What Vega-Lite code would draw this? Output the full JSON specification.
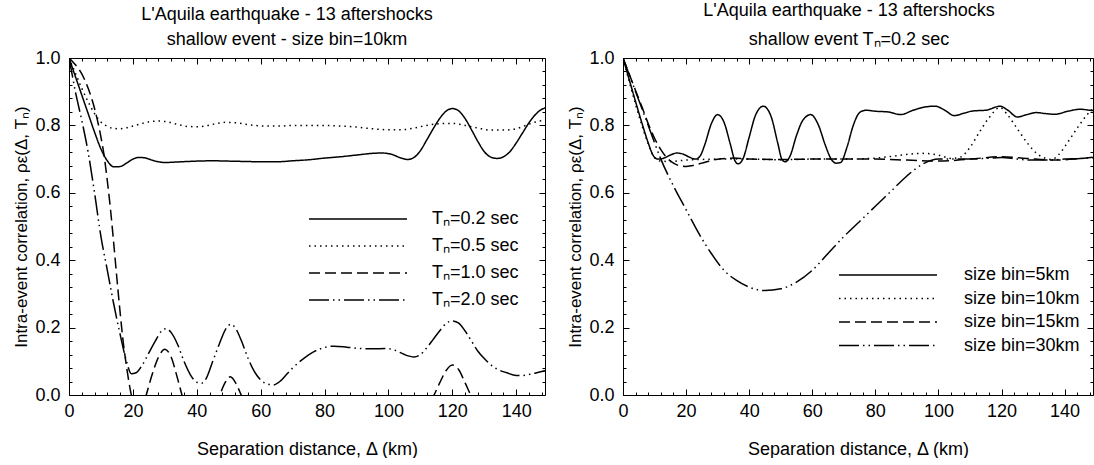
{
  "$schema": "https://vega.github.io/schema/vega-lite/v6.json",
  "padding": {"left": 12, "top": 2, "right": 0, "bottom": 0},
  "spacing": 20,
  "config": {
    "font": "Liberation Sans",
    "view": {"stroke": null},
    "axis": {
      "grid": false,
      "domainColor": "#000",
      "domainWidth": 1,
      "tickColor": "#000",
      "tickWidth": 1,
      "labelColor": "#000",
      "titleColor": "#000",
      "labelFont": "Liberation Sans",
      "titleFont": "Liberation Sans",
      "labelFontSize": 18,
      "titleFontSize": 18,
      "titleFontWeight": "normal",
      "labelOverlap": false,
      "labelFlush": false
    },
    "legend": {
      "labelFont": "Liberation Sans",
      "labelFontSize": 18,
      "labelColor": "#000",
      "symbolType": "stroke",
      "symbolSize": 9604,
      "symbolStrokeWidth": 1.5,
      "symbolStrokeColor": "#000",
      "clipHeight": 18,
      "padding": 0
    },
    "title": {"font": "Liberation Sans", "fontSize": 18, "fontWeight": "normal", "color": "#000"}
  },
  "datasets": {
    "byPeriod": [
      {"period": "Tₙ=0.2 sec", "distance": 0, "rho": 1.0},
      {"period": "Tₙ=0.2 sec", "distance": 2, "rho": 0.945},
      {"period": "Tₙ=0.2 sec", "distance": 4, "rho": 0.89},
      {"period": "Tₙ=0.2 sec", "distance": 6, "rho": 0.835},
      {"period": "Tₙ=0.2 sec", "distance": 8, "rho": 0.78},
      {"period": "Tₙ=0.2 sec", "distance": 10, "rho": 0.73},
      {"period": "Tₙ=0.2 sec", "distance": 12, "rho": 0.695},
      {"period": "Tₙ=0.2 sec", "distance": 14, "rho": 0.677},
      {"period": "Tₙ=0.2 sec", "distance": 16, "rho": 0.678},
      {"period": "Tₙ=0.2 sec", "distance": 18, "rho": 0.688},
      {"period": "Tₙ=0.2 sec", "distance": 20, "rho": 0.7},
      {"period": "Tₙ=0.2 sec", "distance": 22, "rho": 0.705},
      {"period": "Tₙ=0.2 sec", "distance": 24, "rho": 0.703},
      {"period": "Tₙ=0.2 sec", "distance": 26, "rho": 0.697},
      {"period": "Tₙ=0.2 sec", "distance": 28, "rho": 0.692},
      {"period": "Tₙ=0.2 sec", "distance": 30, "rho": 0.69},
      {"period": "Tₙ=0.2 sec", "distance": 35, "rho": 0.692},
      {"period": "Tₙ=0.2 sec", "distance": 40, "rho": 0.694},
      {"period": "Tₙ=0.2 sec", "distance": 45, "rho": 0.695},
      {"period": "Tₙ=0.2 sec", "distance": 50, "rho": 0.694},
      {"period": "Tₙ=0.2 sec", "distance": 55, "rho": 0.693},
      {"period": "Tₙ=0.2 sec", "distance": 60, "rho": 0.692},
      {"period": "Tₙ=0.2 sec", "distance": 65, "rho": 0.692},
      {"period": "Tₙ=0.2 sec", "distance": 70, "rho": 0.695},
      {"period": "Tₙ=0.2 sec", "distance": 75, "rho": 0.698},
      {"period": "Tₙ=0.2 sec", "distance": 80, "rho": 0.703},
      {"period": "Tₙ=0.2 sec", "distance": 85, "rho": 0.707},
      {"period": "Tₙ=0.2 sec", "distance": 90, "rho": 0.712},
      {"period": "Tₙ=0.2 sec", "distance": 95, "rho": 0.717},
      {"period": "Tₙ=0.2 sec", "distance": 98, "rho": 0.718},
      {"period": "Tₙ=0.2 sec", "distance": 101, "rho": 0.714},
      {"period": "Tₙ=0.2 sec", "distance": 104, "rho": 0.703},
      {"period": "Tₙ=0.2 sec", "distance": 106, "rho": 0.699},
      {"period": "Tₙ=0.2 sec", "distance": 108, "rho": 0.705},
      {"period": "Tₙ=0.2 sec", "distance": 110, "rho": 0.725},
      {"period": "Tₙ=0.2 sec", "distance": 112, "rho": 0.757},
      {"period": "Tₙ=0.2 sec", "distance": 114, "rho": 0.79},
      {"period": "Tₙ=0.2 sec", "distance": 116, "rho": 0.82},
      {"period": "Tₙ=0.2 sec", "distance": 118, "rho": 0.842},
      {"period": "Tₙ=0.2 sec", "distance": 120, "rho": 0.85},
      {"period": "Tₙ=0.2 sec", "distance": 122, "rho": 0.843},
      {"period": "Tₙ=0.2 sec", "distance": 124, "rho": 0.82},
      {"period": "Tₙ=0.2 sec", "distance": 126, "rho": 0.787},
      {"period": "Tₙ=0.2 sec", "distance": 128, "rho": 0.752},
      {"period": "Tₙ=0.2 sec", "distance": 130, "rho": 0.722},
      {"period": "Tₙ=0.2 sec", "distance": 132, "rho": 0.706},
      {"period": "Tₙ=0.2 sec", "distance": 134, "rho": 0.702},
      {"period": "Tₙ=0.2 sec", "distance": 136, "rho": 0.707},
      {"period": "Tₙ=0.2 sec", "distance": 138, "rho": 0.722},
      {"period": "Tₙ=0.2 sec", "distance": 140, "rho": 0.748},
      {"period": "Tₙ=0.2 sec", "distance": 142, "rho": 0.778},
      {"period": "Tₙ=0.2 sec", "distance": 144, "rho": 0.808},
      {"period": "Tₙ=0.2 sec", "distance": 146, "rho": 0.832},
      {"period": "Tₙ=0.2 sec", "distance": 148, "rho": 0.848},
      {"period": "Tₙ=0.2 sec", "distance": 150, "rho": 0.853},

      {"period": "Tₙ=0.5 sec", "distance": 0, "rho": 1.0},
      {"period": "Tₙ=0.5 sec", "distance": 2, "rho": 0.955},
      {"period": "Tₙ=0.5 sec", "distance": 4, "rho": 0.91},
      {"period": "Tₙ=0.5 sec", "distance": 6, "rho": 0.87},
      {"period": "Tₙ=0.5 sec", "distance": 8, "rho": 0.835},
      {"period": "Tₙ=0.5 sec", "distance": 10, "rho": 0.81},
      {"period": "Tₙ=0.5 sec", "distance": 12, "rho": 0.797},
      {"period": "Tₙ=0.5 sec", "distance": 14, "rho": 0.791},
      {"period": "Tₙ=0.5 sec", "distance": 16, "rho": 0.79},
      {"period": "Tₙ=0.5 sec", "distance": 18, "rho": 0.793},
      {"period": "Tₙ=0.5 sec", "distance": 20, "rho": 0.798},
      {"period": "Tₙ=0.5 sec", "distance": 23, "rho": 0.806},
      {"period": "Tₙ=0.5 sec", "distance": 26, "rho": 0.812},
      {"period": "Tₙ=0.5 sec", "distance": 28, "rho": 0.813},
      {"period": "Tₙ=0.5 sec", "distance": 31, "rho": 0.81},
      {"period": "Tₙ=0.5 sec", "distance": 34, "rho": 0.803},
      {"period": "Tₙ=0.5 sec", "distance": 37, "rho": 0.797},
      {"period": "Tₙ=0.5 sec", "distance": 40, "rho": 0.796},
      {"period": "Tₙ=0.5 sec", "distance": 43, "rho": 0.799},
      {"period": "Tₙ=0.5 sec", "distance": 46, "rho": 0.805},
      {"period": "Tₙ=0.5 sec", "distance": 49, "rho": 0.809},
      {"period": "Tₙ=0.5 sec", "distance": 52, "rho": 0.808},
      {"period": "Tₙ=0.5 sec", "distance": 55, "rho": 0.804},
      {"period": "Tₙ=0.5 sec", "distance": 58, "rho": 0.8},
      {"period": "Tₙ=0.5 sec", "distance": 62, "rho": 0.798},
      {"period": "Tₙ=0.5 sec", "distance": 66, "rho": 0.798},
      {"period": "Tₙ=0.5 sec", "distance": 70, "rho": 0.8},
      {"period": "Tₙ=0.5 sec", "distance": 75, "rho": 0.8},
      {"period": "Tₙ=0.5 sec", "distance": 80, "rho": 0.8},
      {"period": "Tₙ=0.5 sec", "distance": 85, "rho": 0.798},
      {"period": "Tₙ=0.5 sec", "distance": 90, "rho": 0.795},
      {"period": "Tₙ=0.5 sec", "distance": 95, "rho": 0.79},
      {"period": "Tₙ=0.5 sec", "distance": 100, "rho": 0.787},
      {"period": "Tₙ=0.5 sec", "distance": 104, "rho": 0.787},
      {"period": "Tₙ=0.5 sec", "distance": 108, "rho": 0.792},
      {"period": "Tₙ=0.5 sec", "distance": 112, "rho": 0.8},
      {"period": "Tₙ=0.5 sec", "distance": 116, "rho": 0.805},
      {"period": "Tₙ=0.5 sec", "distance": 120, "rho": 0.806},
      {"period": "Tₙ=0.5 sec", "distance": 124, "rho": 0.8},
      {"period": "Tₙ=0.5 sec", "distance": 128, "rho": 0.792},
      {"period": "Tₙ=0.5 sec", "distance": 132, "rho": 0.786},
      {"period": "Tₙ=0.5 sec", "distance": 136, "rho": 0.786},
      {"period": "Tₙ=0.5 sec", "distance": 140, "rho": 0.79},
      {"period": "Tₙ=0.5 sec", "distance": 143, "rho": 0.8},
      {"period": "Tₙ=0.5 sec", "distance": 146, "rho": 0.81},
      {"period": "Tₙ=0.5 sec", "distance": 148, "rho": 0.814},
      {"period": "Tₙ=0.5 sec", "distance": 150, "rho": 0.81},

      {"period": "Tₙ=1.0 sec", "distance": 0, "rho": 1.0},
      {"period": "Tₙ=1.0 sec", "distance": 2, "rho": 0.98},
      {"period": "Tₙ=1.0 sec", "distance": 4, "rho": 0.953},
      {"period": "Tₙ=1.0 sec", "distance": 6, "rho": 0.91},
      {"period": "Tₙ=1.0 sec", "distance": 8, "rho": 0.85},
      {"period": "Tₙ=1.0 sec", "distance": 10, "rho": 0.765},
      {"period": "Tₙ=1.0 sec", "distance": 11, "rho": 0.71},
      {"period": "Tₙ=1.0 sec", "distance": 12, "rho": 0.635},
      {"period": "Tₙ=1.0 sec", "distance": 13, "rho": 0.55},
      {"period": "Tₙ=1.0 sec", "distance": 14, "rho": 0.45},
      {"period": "Tₙ=1.0 sec", "distance": 15, "rho": 0.345},
      {"period": "Tₙ=1.0 sec", "distance": 16, "rho": 0.245},
      {"period": "Tₙ=1.0 sec", "distance": 17, "rho": 0.155},
      {"period": "Tₙ=1.0 sec", "distance": 18, "rho": 0.085},
      {"period": "Tₙ=1.0 sec", "distance": 19, "rho": 0.025},
      {"period": "Tₙ=1.0 sec", "distance": 20, "rho": -0.02},
      {"period": "Tₙ=1.0 sec", "distance": 22, "rho": -0.055},
      {"period": "Tₙ=1.0 sec", "distance": 24, "rho": -0.005},
      {"period": "Tₙ=1.0 sec", "distance": 26, "rho": 0.06},
      {"period": "Tₙ=1.0 sec", "distance": 28, "rho": 0.112},
      {"period": "Tₙ=1.0 sec", "distance": 30, "rho": 0.136},
      {"period": "Tₙ=1.0 sec", "distance": 32, "rho": 0.112},
      {"period": "Tₙ=1.0 sec", "distance": 34, "rho": 0.048},
      {"period": "Tₙ=1.0 sec", "distance": 36, "rho": -0.02},
      {"period": "Tₙ=1.0 sec", "distance": 40, "rho": -0.08},
      {"period": "Tₙ=1.0 sec", "distance": 44, "rho": -0.05},
      {"period": "Tₙ=1.0 sec", "distance": 47, "rho": -0.005},
      {"period": "Tₙ=1.0 sec", "distance": 48.5, "rho": 0.03},
      {"period": "Tₙ=1.0 sec", "distance": 50.5, "rho": 0.054},
      {"period": "Tₙ=1.0 sec", "distance": 52.5, "rho": 0.03},
      {"period": "Tₙ=1.0 sec", "distance": 54, "rho": -0.002},
      {"period": "Tₙ=1.0 sec", "distance": 56, "rho": -0.04},
      {"period": "Tₙ=1.0 sec", "distance": 60, "rho": -0.08},
      {"period": "Tₙ=1.0 sec", "distance": 70, "rho": -0.1},
      {"period": "Tₙ=1.0 sec", "distance": 80, "rho": -0.12},
      {"period": "Tₙ=1.0 sec", "distance": 90, "rho": -0.12},
      {"period": "Tₙ=1.0 sec", "distance": 100, "rho": -0.1},
      {"period": "Tₙ=1.0 sec", "distance": 110, "rho": -0.05},
      {"period": "Tₙ=1.0 sec", "distance": 114, "rho": -0.005},
      {"period": "Tₙ=1.0 sec", "distance": 116, "rho": 0.035},
      {"period": "Tₙ=1.0 sec", "distance": 118, "rho": 0.072},
      {"period": "Tₙ=1.0 sec", "distance": 120, "rho": 0.089},
      {"period": "Tₙ=1.0 sec", "distance": 122, "rho": 0.075},
      {"period": "Tₙ=1.0 sec", "distance": 124, "rho": 0.036},
      {"period": "Tₙ=1.0 sec", "distance": 126, "rho": -0.005},
      {"period": "Tₙ=1.0 sec", "distance": 128, "rho": -0.04},
      {"period": "Tₙ=1.0 sec", "distance": 135, "rho": -0.09},
      {"period": "Tₙ=1.0 sec", "distance": 142, "rho": -0.08},
      {"period": "Tₙ=1.0 sec", "distance": 150, "rho": -0.06},

      {"period": "Tₙ=2.0 sec", "distance": 0, "rho": 1.0},
      {"period": "Tₙ=2.0 sec", "distance": 1, "rho": 0.95},
      {"period": "Tₙ=2.0 sec", "distance": 2, "rho": 0.9},
      {"period": "Tₙ=2.0 sec", "distance": 4, "rho": 0.815},
      {"period": "Tₙ=2.0 sec", "distance": 6, "rho": 0.72},
      {"period": "Tₙ=2.0 sec", "distance": 8, "rho": 0.6},
      {"period": "Tₙ=2.0 sec", "distance": 10, "rho": 0.47},
      {"period": "Tₙ=2.0 sec", "distance": 12, "rho": 0.37},
      {"period": "Tₙ=2.0 sec", "distance": 14, "rho": 0.27},
      {"period": "Tₙ=2.0 sec", "distance": 16, "rho": 0.18},
      {"period": "Tₙ=2.0 sec", "distance": 18, "rho": 0.1},
      {"period": "Tₙ=2.0 sec", "distance": 19.5, "rho": 0.063},
      {"period": "Tₙ=2.0 sec", "distance": 21, "rho": 0.066},
      {"period": "Tₙ=2.0 sec", "distance": 23, "rho": 0.09},
      {"period": "Tₙ=2.0 sec", "distance": 25, "rho": 0.125},
      {"period": "Tₙ=2.0 sec", "distance": 27, "rho": 0.16},
      {"period": "Tₙ=2.0 sec", "distance": 29, "rho": 0.19},
      {"period": "Tₙ=2.0 sec", "distance": 30.5, "rho": 0.197},
      {"period": "Tₙ=2.0 sec", "distance": 32, "rho": 0.185},
      {"period": "Tₙ=2.0 sec", "distance": 34, "rho": 0.15},
      {"period": "Tₙ=2.0 sec", "distance": 36, "rho": 0.1},
      {"period": "Tₙ=2.0 sec", "distance": 38, "rho": 0.06},
      {"period": "Tₙ=2.0 sec", "distance": 40, "rho": 0.038},
      {"period": "Tₙ=2.0 sec", "distance": 41.5, "rho": 0.035},
      {"period": "Tₙ=2.0 sec", "distance": 43, "rho": 0.05},
      {"period": "Tₙ=2.0 sec", "distance": 45, "rho": 0.1},
      {"period": "Tₙ=2.0 sec", "distance": 47, "rho": 0.15},
      {"period": "Tₙ=2.0 sec", "distance": 49, "rho": 0.195},
      {"period": "Tₙ=2.0 sec", "distance": 50.7, "rho": 0.21},
      {"period": "Tₙ=2.0 sec", "distance": 52, "rho": 0.2},
      {"period": "Tₙ=2.0 sec", "distance": 54, "rho": 0.16},
      {"period": "Tₙ=2.0 sec", "distance": 56, "rho": 0.11},
      {"period": "Tₙ=2.0 sec", "distance": 58, "rho": 0.07},
      {"period": "Tₙ=2.0 sec", "distance": 60, "rho": 0.045},
      {"period": "Tₙ=2.0 sec", "distance": 62, "rho": 0.033},
      {"period": "Tₙ=2.0 sec", "distance": 64, "rho": 0.03},
      {"period": "Tₙ=2.0 sec", "distance": 66, "rho": 0.04},
      {"period": "Tₙ=2.0 sec", "distance": 68, "rho": 0.06},
      {"period": "Tₙ=2.0 sec", "distance": 70, "rho": 0.08},
      {"period": "Tₙ=2.0 sec", "distance": 73, "rho": 0.105},
      {"period": "Tₙ=2.0 sec", "distance": 76, "rho": 0.125},
      {"period": "Tₙ=2.0 sec", "distance": 79, "rho": 0.138},
      {"period": "Tₙ=2.0 sec", "distance": 83, "rho": 0.145},
      {"period": "Tₙ=2.0 sec", "distance": 87, "rho": 0.142},
      {"period": "Tₙ=2.0 sec", "distance": 91, "rho": 0.138},
      {"period": "Tₙ=2.0 sec", "distance": 95, "rho": 0.137},
      {"period": "Tₙ=2.0 sec", "distance": 99, "rho": 0.138},
      {"period": "Tₙ=2.0 sec", "distance": 102, "rho": 0.133},
      {"period": "Tₙ=2.0 sec", "distance": 105, "rho": 0.12},
      {"period": "Tₙ=2.0 sec", "distance": 108, "rho": 0.113},
      {"period": "Tₙ=2.0 sec", "distance": 110, "rho": 0.12},
      {"period": "Tₙ=2.0 sec", "distance": 112, "rho": 0.14},
      {"period": "Tₙ=2.0 sec", "distance": 114, "rho": 0.165},
      {"period": "Tₙ=2.0 sec", "distance": 116, "rho": 0.19},
      {"period": "Tₙ=2.0 sec", "distance": 118, "rho": 0.212},
      {"period": "Tₙ=2.0 sec", "distance": 120, "rho": 0.22},
      {"period": "Tₙ=2.0 sec", "distance": 122, "rho": 0.213},
      {"period": "Tₙ=2.0 sec", "distance": 124, "rho": 0.19},
      {"period": "Tₙ=2.0 sec", "distance": 126, "rho": 0.16},
      {"period": "Tₙ=2.0 sec", "distance": 128, "rho": 0.13},
      {"period": "Tₙ=2.0 sec", "distance": 130, "rho": 0.108},
      {"period": "Tₙ=2.0 sec", "distance": 132, "rho": 0.09},
      {"period": "Tₙ=2.0 sec", "distance": 134, "rho": 0.077},
      {"period": "Tₙ=2.0 sec", "distance": 137, "rho": 0.066},
      {"period": "Tₙ=2.0 sec", "distance": 140, "rho": 0.058},
      {"period": "Tₙ=2.0 sec", "distance": 142, "rho": 0.058},
      {"period": "Tₙ=2.0 sec", "distance": 145, "rho": 0.063},
      {"period": "Tₙ=2.0 sec", "distance": 148, "rho": 0.07},
      {"period": "Tₙ=2.0 sec", "distance": 150, "rho": 0.073}
    ],
    "byBin": [
      {"bin": "size bin=5km", "distance": 0, "rho": 1.0},
      {"bin": "size bin=5km", "distance": 2, "rho": 0.935},
      {"bin": "size bin=5km", "distance": 4, "rho": 0.87},
      {"bin": "size bin=5km", "distance": 6, "rho": 0.807},
      {"bin": "size bin=5km", "distance": 8, "rho": 0.748},
      {"bin": "size bin=5km", "distance": 9.5, "rho": 0.712},
      {"bin": "size bin=5km", "distance": 11, "rho": 0.7},
      {"bin": "size bin=5km", "distance": 13, "rho": 0.703},
      {"bin": "size bin=5km", "distance": 15, "rho": 0.712},
      {"bin": "size bin=5km", "distance": 17, "rho": 0.718},
      {"bin": "size bin=5km", "distance": 19, "rho": 0.715},
      {"bin": "size bin=5km", "distance": 21, "rho": 0.706},
      {"bin": "size bin=5km", "distance": 23, "rho": 0.7},
      {"bin": "size bin=5km", "distance": 24.5, "rho": 0.71},
      {"bin": "size bin=5km", "distance": 26, "rho": 0.745},
      {"bin": "size bin=5km", "distance": 28, "rho": 0.805},
      {"bin": "size bin=5km", "distance": 30, "rho": 0.832},
      {"bin": "size bin=5km", "distance": 32, "rho": 0.81},
      {"bin": "size bin=5km", "distance": 34, "rho": 0.745},
      {"bin": "size bin=5km", "distance": 35.5, "rho": 0.695},
      {"bin": "size bin=5km", "distance": 36.5, "rho": 0.686},
      {"bin": "size bin=5km", "distance": 38, "rho": 0.7},
      {"bin": "size bin=5km", "distance": 40, "rho": 0.765},
      {"bin": "size bin=5km", "distance": 42, "rho": 0.83},
      {"bin": "size bin=5km", "distance": 44.5, "rho": 0.857},
      {"bin": "size bin=5km", "distance": 47, "rho": 0.825},
      {"bin": "size bin=5km", "distance": 49, "rho": 0.75},
      {"bin": "size bin=5km", "distance": 50.5, "rho": 0.697},
      {"bin": "size bin=5km", "distance": 51.5, "rho": 0.692},
      {"bin": "size bin=5km", "distance": 53, "rho": 0.71},
      {"bin": "size bin=5km", "distance": 55, "rho": 0.77},
      {"bin": "size bin=5km", "distance": 57, "rho": 0.815},
      {"bin": "size bin=5km", "distance": 59.5, "rho": 0.832},
      {"bin": "size bin=5km", "distance": 62, "rho": 0.8},
      {"bin": "size bin=5km", "distance": 64, "rho": 0.745},
      {"bin": "size bin=5km", "distance": 66, "rho": 0.7},
      {"bin": "size bin=5km", "distance": 67.5, "rho": 0.688},
      {"bin": "size bin=5km", "distance": 69, "rho": 0.69},
      {"bin": "size bin=5km", "distance": 71, "rho": 0.735},
      {"bin": "size bin=5km", "distance": 73, "rho": 0.8},
      {"bin": "size bin=5km", "distance": 75, "rho": 0.838},
      {"bin": "size bin=5km", "distance": 77, "rho": 0.845},
      {"bin": "size bin=5km", "distance": 80, "rho": 0.842},
      {"bin": "size bin=5km", "distance": 84, "rho": 0.84},
      {"bin": "size bin=5km", "distance": 88, "rho": 0.832},
      {"bin": "size bin=5km", "distance": 92, "rho": 0.845},
      {"bin": "size bin=5km", "distance": 96, "rho": 0.855},
      {"bin": "size bin=5km", "distance": 99, "rho": 0.857},
      {"bin": "size bin=5km", "distance": 102, "rho": 0.845},
      {"bin": "size bin=5km", "distance": 105, "rho": 0.829},
      {"bin": "size bin=5km", "distance": 108, "rho": 0.836},
      {"bin": "size bin=5km", "distance": 111, "rho": 0.843},
      {"bin": "size bin=5km", "distance": 115, "rho": 0.845},
      {"bin": "size bin=5km", "distance": 119.5, "rho": 0.857},
      {"bin": "size bin=5km", "distance": 122, "rho": 0.845},
      {"bin": "size bin=5km", "distance": 125, "rho": 0.825},
      {"bin": "size bin=5km", "distance": 128, "rho": 0.832},
      {"bin": "size bin=5km", "distance": 131, "rho": 0.838},
      {"bin": "size bin=5km", "distance": 134, "rho": 0.835},
      {"bin": "size bin=5km", "distance": 137, "rho": 0.833},
      {"bin": "size bin=5km", "distance": 141, "rho": 0.842},
      {"bin": "size bin=5km", "distance": 145, "rho": 0.848},
      {"bin": "size bin=5km", "distance": 148, "rho": 0.845},
      {"bin": "size bin=5km", "distance": 150, "rho": 0.843},

      {"bin": "size bin=10km", "distance": 0, "rho": 1.0},
      {"bin": "size bin=10km", "distance": 2, "rho": 0.93},
      {"bin": "size bin=10km", "distance": 4, "rho": 0.862},
      {"bin": "size bin=10km", "distance": 6, "rho": 0.8},
      {"bin": "size bin=10km", "distance": 8, "rho": 0.745},
      {"bin": "size bin=10km", "distance": 10, "rho": 0.705},
      {"bin": "size bin=10km", "distance": 12, "rho": 0.694},
      {"bin": "size bin=10km", "distance": 15, "rho": 0.693},
      {"bin": "size bin=10km", "distance": 20, "rho": 0.697},
      {"bin": "size bin=10km", "distance": 25, "rho": 0.699},
      {"bin": "size bin=10km", "distance": 30, "rho": 0.7},
      {"bin": "size bin=10km", "distance": 40, "rho": 0.7},
      {"bin": "size bin=10km", "distance": 50, "rho": 0.698},
      {"bin": "size bin=10km", "distance": 60, "rho": 0.7},
      {"bin": "size bin=10km", "distance": 70, "rho": 0.7},
      {"bin": "size bin=10km", "distance": 80, "rho": 0.703},
      {"bin": "size bin=10km", "distance": 85, "rho": 0.708},
      {"bin": "size bin=10km", "distance": 90, "rho": 0.714},
      {"bin": "size bin=10km", "distance": 95, "rho": 0.717},
      {"bin": "size bin=10km", "distance": 100, "rho": 0.712},
      {"bin": "size bin=10km", "distance": 104, "rho": 0.702},
      {"bin": "size bin=10km", "distance": 107, "rho": 0.706},
      {"bin": "size bin=10km", "distance": 110, "rho": 0.735},
      {"bin": "size bin=10km", "distance": 113, "rho": 0.78},
      {"bin": "size bin=10km", "distance": 116, "rho": 0.822},
      {"bin": "size bin=10km", "distance": 119.5, "rho": 0.853},
      {"bin": "size bin=10km", "distance": 122, "rho": 0.83},
      {"bin": "size bin=10km", "distance": 125, "rho": 0.79},
      {"bin": "size bin=10km", "distance": 128, "rho": 0.75},
      {"bin": "size bin=10km", "distance": 131, "rho": 0.718},
      {"bin": "size bin=10km", "distance": 134, "rho": 0.702},
      {"bin": "size bin=10km", "distance": 136, "rho": 0.699},
      {"bin": "size bin=10km", "distance": 138, "rho": 0.712},
      {"bin": "size bin=10km", "distance": 141, "rho": 0.75},
      {"bin": "size bin=10km", "distance": 144, "rho": 0.792},
      {"bin": "size bin=10km", "distance": 147, "rho": 0.83},
      {"bin": "size bin=10km", "distance": 150, "rho": 0.858},

      {"bin": "size bin=15km", "distance": 0, "rho": 1.0},
      {"bin": "size bin=15km", "distance": 2, "rho": 0.952},
      {"bin": "size bin=15km", "distance": 4, "rho": 0.903},
      {"bin": "size bin=15km", "distance": 6, "rho": 0.855},
      {"bin": "size bin=15km", "distance": 8, "rho": 0.805},
      {"bin": "size bin=15km", "distance": 10, "rho": 0.762},
      {"bin": "size bin=15km", "distance": 12, "rho": 0.728},
      {"bin": "size bin=15km", "distance": 14, "rho": 0.703},
      {"bin": "size bin=15km", "distance": 16, "rho": 0.688},
      {"bin": "size bin=15km", "distance": 18, "rho": 0.68},
      {"bin": "size bin=15km", "distance": 20, "rho": 0.678},
      {"bin": "size bin=15km", "distance": 22, "rho": 0.681},
      {"bin": "size bin=15km", "distance": 25, "rho": 0.688},
      {"bin": "size bin=15km", "distance": 28, "rho": 0.696},
      {"bin": "size bin=15km", "distance": 31, "rho": 0.701},
      {"bin": "size bin=15km", "distance": 35, "rho": 0.703},
      {"bin": "size bin=15km", "distance": 40, "rho": 0.7},
      {"bin": "size bin=15km", "distance": 50, "rho": 0.699},
      {"bin": "size bin=15km", "distance": 60, "rho": 0.7},
      {"bin": "size bin=15km", "distance": 70, "rho": 0.7},
      {"bin": "size bin=15km", "distance": 80, "rho": 0.7},
      {"bin": "size bin=15km", "distance": 90, "rho": 0.697},
      {"bin": "size bin=15km", "distance": 100, "rho": 0.694},
      {"bin": "size bin=15km", "distance": 110, "rho": 0.7},
      {"bin": "size bin=15km", "distance": 120, "rho": 0.707},
      {"bin": "size bin=15km", "distance": 128, "rho": 0.702},
      {"bin": "size bin=15km", "distance": 136, "rho": 0.697},
      {"bin": "size bin=15km", "distance": 143, "rho": 0.7},
      {"bin": "size bin=15km", "distance": 150, "rho": 0.707},

      {"bin": "size bin=30km", "distance": 0, "rho": 1.0},
      {"bin": "size bin=30km", "distance": 4, "rho": 0.9},
      {"bin": "size bin=30km", "distance": 8, "rho": 0.8},
      {"bin": "size bin=30km", "distance": 12, "rho": 0.7},
      {"bin": "size bin=30km", "distance": 16, "rho": 0.62},
      {"bin": "size bin=30km", "distance": 20, "rho": 0.55},
      {"bin": "size bin=30km", "distance": 24, "rho": 0.48},
      {"bin": "size bin=30km", "distance": 28, "rho": 0.42},
      {"bin": "size bin=30km", "distance": 32, "rho": 0.37},
      {"bin": "size bin=30km", "distance": 36, "rho": 0.34},
      {"bin": "size bin=30km", "distance": 40, "rho": 0.32},
      {"bin": "size bin=30km", "distance": 45, "rho": 0.31},
      {"bin": "size bin=30km", "distance": 50, "rho": 0.315},
      {"bin": "size bin=30km", "distance": 55, "rho": 0.335},
      {"bin": "size bin=30km", "distance": 60, "rho": 0.37},
      {"bin": "size bin=30km", "distance": 65, "rho": 0.42},
      {"bin": "size bin=30km", "distance": 70, "rho": 0.47},
      {"bin": "size bin=30km", "distance": 75, "rho": 0.515},
      {"bin": "size bin=30km", "distance": 80, "rho": 0.56},
      {"bin": "size bin=30km", "distance": 85, "rho": 0.605},
      {"bin": "size bin=30km", "distance": 90, "rho": 0.65},
      {"bin": "size bin=30km", "distance": 95, "rho": 0.685},
      {"bin": "size bin=30km", "distance": 100, "rho": 0.7},
      {"bin": "size bin=30km", "distance": 105, "rho": 0.7},
      {"bin": "size bin=30km", "distance": 110, "rho": 0.7},
      {"bin": "size bin=30km", "distance": 115, "rho": 0.702},
      {"bin": "size bin=30km", "distance": 120, "rho": 0.705},
      {"bin": "size bin=30km", "distance": 125, "rho": 0.7},
      {"bin": "size bin=30km", "distance": 130, "rho": 0.697},
      {"bin": "size bin=30km", "distance": 135, "rho": 0.697},
      {"bin": "size bin=30km", "distance": 140, "rho": 0.7},
      {"bin": "size bin=30km", "distance": 145, "rho": 0.702},
      {"bin": "size bin=30km", "distance": 150, "rho": 0.705}
    ]
  },
  "resolve": {"scale": {"strokeDash": "independent"}, "legend": {"strokeDash": "independent"}},
  "hconcat": [
    {
      "width": 476,
      "height": 337,
      "title": {"text": ["L'Aquila earthquake - 13 aftershocks", "shallow event - size bin=10km"], "frame": "group", "anchor": "middle", "dx": -20, "offset": 0, "lineHeight": 25},
      "data": {"name": "byPeriod"},
      "layer": [
        {
          "mark": {"type": "line", "clip": true, "interpolate": "monotone", "strokeWidth": 1.5, "color": "#000"},
          "encoding": {
            "x": {
              "field": "distance", "type": "quantitative",
              "scale": {"domain": [0, 149], "nice": false, "zero": false},
              "axis": {
                "orient": "bottom",
                "values": [0,4,8,12,16,20,24,28,32,36,40,44,48,52,56,60,64,68,72,76,80,84,88,92,96,100,104,108,112,116,120,124,128,132,136,140,144,148],
                "labelExpr": "datum.value % 20 === 0 ? datum.label : ''",
                "tickSize": {"condition": {"test": "datum.value % 20 === 0", "value": -6}, "value": -3},
                "labelPadding": 13,
                "title": "Separation distance, Δ (km)",
                "titlePadding": 17
              }
            },
            "y": {
              "field": "rho", "type": "quantitative",
              "scale": {"domain": [0, 1], "nice": false},
              "axis": {
                "orient": "left",
                "values": [0,0.04,0.08,0.12,0.16,0.2,0.24,0.28,0.32,0.36,0.4,0.44,0.48,0.52,0.56,0.6,0.64,0.68,0.72,0.76,0.8,0.84,0.88,0.92,0.96,1],
                "labelExpr": "abs(datum.value * 5 - round(datum.value * 5)) < 0.001 ? format(datum.value, '.1f') : ''",
                "tickSize": {"condition": {"test": "abs(datum.value * 5 - round(datum.value * 5)) < 0.001", "value": -6}, "value": -3},
                "labelPadding": 15,
                "title": "Intra-event correlation,  ρε(Δ, Tₙ)",
                "titleFontSize": 17,
                "titlePadding": 4
              }
            },
            "strokeDash": {
              "field": "period", "type": "nominal",
              "scale": {"domain": ["Tₙ=0.2 sec", "Tₙ=0.5 sec", "Tₙ=1.0 sec", "Tₙ=2.0 sec"], "range": [[1, 0], [1.5, 4], [11, 5], [20, 4, 1.5, 4, 1.5, 4]]},
              "legend": {"orient": "none", "legendX": 239, "legendY": 152, "title": null, "rowPadding": 9, "labelOffset": 24}
            }
          }
        },
        {
          "mark": {"type": "line", "clip": true, "opacity": 0},
          "encoding": {
            "x": {
              "field": "distance", "type": "quantitative",
              "axis": {
                "orient": "top",
                "values": [0,4,8,12,16,20,24,28,32,36,40,44,48,52,56,60,64,68,72,76,80,84,88,92,96,100,104,108,112,116,120,124,128,132,136,140,144,148],
                "labels": false,
                "tickSize": {"condition": {"test": "datum.value % 20 === 0", "value": -6}, "value": -3},
                "title": null
              }
            },
            "y": {
              "field": "rho", "type": "quantitative",
              "axis": {
                "orient": "right",
                "values": [0,0.04,0.08,0.12,0.16,0.2,0.24,0.28,0.32,0.36,0.4,0.44,0.48,0.52,0.56,0.6,0.64,0.68,0.72,0.76,0.8,0.84,0.88,0.92,0.96,1],
                "labels": false,
                "tickSize": {"condition": {"test": "abs(datum.value * 5 - round(datum.value * 5)) < 0.001", "value": -6}, "value": -3},
                "title": null
              }
            }
          }
        }
      ],
      "resolve": {"axis": {"x": "independent", "y": "independent"}}
    },
    {
      "width": 470,
      "height": 337,
      "title": {"text": ["L'Aquila earthquake - 13 aftershocks", "shallow event Tₙ=0.2 sec"], "frame": "group", "anchor": "middle", "dx": -9, "offset": 0, "lineHeight": 29},
      "data": {"name": "byBin"},
      "layer": [
        {
          "mark": {"type": "line", "clip": true, "interpolate": "monotone", "strokeWidth": 1.5, "color": "#000"},
          "encoding": {
            "x": {
              "field": "distance", "type": "quantitative",
              "scale": {"domain": [0, 149], "nice": false, "zero": false},
              "axis": {
                "orient": "bottom",
                "values": [0,4,8,12,16,20,24,28,32,36,40,44,48,52,56,60,64,68,72,76,80,84,88,92,96,100,104,108,112,116,120,124,128,132,136,140,144,148],
                "labelExpr": "datum.value % 20 === 0 ? datum.label : ''",
                "tickSize": {"condition": {"test": "datum.value % 20 === 0", "value": -6}, "value": -3},
                "labelPadding": 13,
                "title": "Separation distance, Δ (km)",
                "titlePadding": 17
              }
            },
            "y": {
              "field": "rho", "type": "quantitative",
              "scale": {"domain": [0, 1], "nice": false},
              "axis": {
                "orient": "left",
                "values": [0,0.04,0.08,0.12,0.16,0.2,0.24,0.28,0.32,0.36,0.4,0.44,0.48,0.52,0.56,0.6,0.64,0.68,0.72,0.76,0.8,0.84,0.88,0.92,0.96,1],
                "labelExpr": "abs(datum.value * 5 - round(datum.value * 5)) < 0.001 ? format(datum.value, '.1f') : ''",
                "tickSize": {"condition": {"test": "abs(datum.value * 5 - round(datum.value * 5)) < 0.001", "value": -6}, "value": -3},
                "labelPadding": 15,
                "title": "Intra-event correlation,  ρε(Δ, Tₙ)",
                "titleFontSize": 17,
                "titlePadding": 4
              }
            },
            "strokeDash": {
              "field": "bin", "type": "nominal",
              "scale": {"domain": ["size bin=5km", "size bin=10km", "size bin=15km", "size bin=30km"], "range": [[1, 0], [1.5, 4], [11, 5], [20, 4, 1.5, 4, 1.5, 4]]},
              "legend": {"orient": "none", "legendX": 215, "legendY": 208, "title": null, "rowPadding": 5.5, "labelOffset": 26}
            }
          }
        },
        {
          "mark": {"type": "line", "clip": true, "opacity": 0},
          "encoding": {
            "x": {
              "field": "distance", "type": "quantitative",
              "axis": {
                "orient": "top",
                "values": [0,4,8,12,16,20,24,28,32,36,40,44,48,52,56,60,64,68,72,76,80,84,88,92,96,100,104,108,112,116,120,124,128,132,136,140,144,148],
                "labels": false,
                "tickSize": {"condition": {"test": "datum.value % 20 === 0", "value": -6}, "value": -3},
                "title": null
              }
            },
            "y": {
              "field": "rho", "type": "quantitative",
              "axis": {
                "orient": "right",
                "values": [0,0.04,0.08,0.12,0.16,0.2,0.24,0.28,0.32,0.36,0.4,0.44,0.48,0.52,0.56,0.6,0.64,0.68,0.72,0.76,0.8,0.84,0.88,0.92,0.96,1],
                "labels": false,
                "tickSize": {"condition": {"test": "abs(datum.value * 5 - round(datum.value * 5)) < 0.001", "value": -6}, "value": -3},
                "title": null
              }
            }
          }
        }
      ],
      "resolve": {"axis": {"x": "independent", "y": "independent"}}
    }
  ]
}
